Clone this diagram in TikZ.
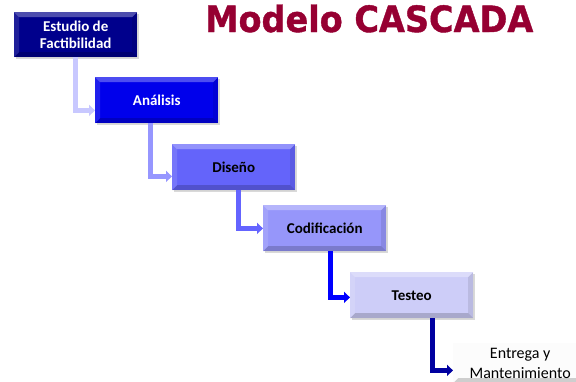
\documentclass[tikz,border=0pt]{standalone}
\usepackage{fontspec}
\setmainfont{Carlito}
\newfontfamily\titlefont[BoldFeatures={FakeBold=1.2}]{DejaVu Sans}
\usetikzlibrary{arrows.meta,shadows}

\definecolor{titlered}{RGB}{150,0,50}
\definecolor{stepA}{RGB}{0,0,140}
\definecolor{stepB}{RGB}{0,0,235}
\definecolor{stepC}{RGB}{100,100,250}
\definecolor{stepD}{RGB}{150,150,250}
\definecolor{stepE}{RGB}{205,205,248}
\definecolor{stepF}{RGB}{252,252,252}
\definecolor{linkA}{RGB}{200,200,255}
\definecolor{linkB}{RGB}{150,150,255}
\definecolor{linkC}{RGB}{100,100,255}
\definecolor{linkD}{RGB}{0,0,255}
\definecolor{linkE}{RGB}{0,0,160}

\tikzset{
  phase/.style={
    rectangle, anchor=north west, inner sep=0pt,
    minimum width=123pt, minimum height=46pt, align=center,
    font=\bfseries\fontsize{15}{17}\selectfont,
    drop shadow={opacity=0.3, shadow xshift=2pt, shadow yshift=-2pt},
    path picture={
      % bevelled edges: light top and left, dark bottom and right
      \fill[white, opacity=0.3]
        (path picture bounding box.north west) -- (path picture bounding box.north east)
        -- ([xshift=-5pt,yshift=-5pt]path picture bounding box.north east)
        -- ([xshift=5pt,yshift=-5pt]path picture bounding box.north west) -- cycle;
      \fill[white, opacity=0.12]
        (path picture bounding box.north west) -- (path picture bounding box.south west)
        -- ([xshift=5pt,yshift=5pt]path picture bounding box.south west)
        -- ([xshift=5pt,yshift=-5pt]path picture bounding box.north west) -- cycle;
      \fill[black, opacity=0.18]
        (path picture bounding box.south west) -- (path picture bounding box.south east)
        -- ([xshift=-5pt,yshift=5pt]path picture bounding box.south east)
        -- ([xshift=5pt,yshift=5pt]path picture bounding box.south west) -- cycle;
      \fill[black, opacity=0.09]
        (path picture bounding box.north east) -- (path picture bounding box.south east)
        -- ([xshift=-5pt,yshift=5pt]path picture bounding box.south east)
        -- ([xshift=-5pt,yshift=-5pt]path picture bounding box.north east) -- cycle;
    }},
  link/.style={line width=5pt, -{Triangle[length=6pt,width=11pt]}},
}

\begin{document}
\begin{tikzpicture}[x=1pt, y=-1pt]
  \useasboundingbox (0,0) rectangle (576,381);

  \node[anchor=base west, inner sep=0pt, text=titlered, yscale=1.08, transform shape,
        font=\titlefont\bfseries\fontsize{33.5}{40}\selectfont] (title) at (205,32) {Modelo CASCADA};

  \node[phase, fill=stepA, text=white, minimum height=45pt] (s1) at (14,12) {Estudio de\\Factibilidad};
  \node[phase, fill=stepB, text=white] (s2) at (95,77) {Análisis};
  \node[phase, fill=stepC] (s3) at (172,144) {Diseño};
  \node[phase, fill=stepD] (s4) at (263,205) {Codificación};
  \node[phase, fill=stepE] (s5) at (350,272) {Testeo};
  \node[phase, fill=stepF, font=\fontsize{16}{20}\selectfont,
        minimum width=134pt, minimum height=40pt] (s6) at (453,343) {Entrega y\\Mantenimiento};

  \draw[link, linkA] ([xshift=61pt]s1.south west) |- ([yshift=13pt]s2.south west);
  \draw[link, linkB] ([xshift=55pt]s2.south west) |- ([yshift=14pt]s3.south west);
  \draw[link, linkC] ([xshift=66pt]s3.south west) |- ([yshift=23pt]s4.south west);
  \draw[link, linkD] ([xshift=67pt]s4.south west) |- ([yshift=21pt]s5.south west);
  \draw[link, linkE] ([xshift=82pt]s5.south west) |- ([yshift=13pt]s6.south west);
\end{tikzpicture}
\end{document}
